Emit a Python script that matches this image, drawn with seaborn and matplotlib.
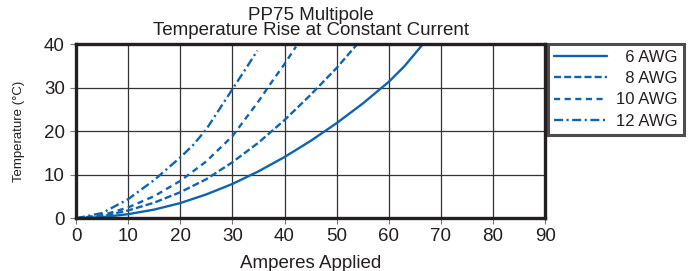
import pandas as pd
import matplotlib
matplotlib.use('Agg')
import matplotlib.pyplot as plt
import seaborn as sns

# 数据
amps_6 = [0, 5, 10, 15, 20, 25, 30, 35, 40, 45, 50, 55, 60, 63, 66.5]
temp_6 = [0, 0.25, 0.95, 2.0, 3.5, 5.5, 7.9, 10.8, 14.1, 17.8, 21.9, 26.4, 31.4, 35.0, 40]

amps_8 = [0, 5, 10, 15, 20, 25, 30, 35, 40, 45, 50, 53.9]
temp_8 = [0, 0.5, 1.8, 3.6, 6.0, 9.0, 12.9, 17.4, 22.6, 28.4, 34.6, 40]

amps_10 = [0, 5, 10, 15, 20, 25, 30, 35, 37.5, 40, 42.2]
temp_10 = [0, 0.7, 2.5, 5.1, 8.6, 13.1, 18.9, 26.9, 31.3, 35.5, 39.5]

amps_12 = [0, 5, 10, 15, 20, 22.5, 25, 27.5, 30, 32.5, 34.8]
temp_12 = [0, 1.2, 4.4, 8.8, 14, 16.9, 20.5, 25.1, 29.7, 34.3, 38.6]

labels = ['\u20076 AWG', '\u20078 AWG', '10 AWG', '12 AWG']
x_ticks = list(range(0, 100, 10))
y_ticks = list(range(0, 50, 10))

blue = '#0e64ae'
dark = '#231f20'

sns.set_style('white')
plt.rcParams['font.family'] = ['Liberation Sans', 'DejaVu Sans']

fig, ax = plt.subplots(figsize=(6.91, 2.71), dpi=100)
fig.subplots_adjust(left=0.110, right=0.789, bottom=0.1945, top=0.836)

lw = 1.7
series = [
    (amps_6, temp_6, '-'),
    (amps_8, temp_8, (0, (3.0, 1.3))),
    (amps_10, temp_10, (0, (2.6, 1.9))),
    (amps_12, temp_12, (0, (3.8, 1.5, 0.9, 1.5))),
]
for (xs, ys, ls), lab in zip(series, labels):
    df = pd.DataFrame({'amps': xs, 'temp': ys})
    sns.lineplot(data=df, x='amps', y='temp', ax=ax, color=blue, lw=lw,
                 linestyle=ls, label=lab)

ax.set_xlim(0, 90)
ax.set_ylim(0, 40)
ax.set_xticks(x_ticks)
ax.set_yticks(y_ticks)
ax.grid(True, color='#333333', lw=0.9)
ax.set_axisbelow(True)
for sp in ax.spines.values():
    sp.set_color(dark)
    sp.set_linewidth(2.4)
ax.tick_params(axis='both', which='major', labelsize=13.5, length=4, width=0.8,
               color='#777777', direction='out', pad=3, labelcolor=dark,
               bottom=True, left=True)
ax.tick_params(axis='y', pad=4)

ax.set_title('PP75 Multipole\nTemperature Rise at Constant Current',
             fontsize=13.5, linespacing=0.8, pad=7, color=dark)
ax.set_xlabel('Amperes Applied', fontsize=13.5, labelpad=7, color=dark)
ax.set_ylabel('Temperature (°C)', fontsize=9.5, color=dark,
              family=['Liberation Sans Narrow', 'Liberation Sans', 'DejaVu Sans'])
ax.yaxis.set_label_coords(-0.109, 0.5)

leg = ax.legend(loc='upper left', bbox_to_anchor=(0.793, 0.838),
                bbox_transform=fig.transFigure, fontsize=12, frameon=True,
                fancybox=False, handlelength=3.2, handletextpad=0.55,
                labelspacing=0.38, borderpad=0.35, borderaxespad=0)
leg.get_frame().set_edgecolor(dark)
leg.get_frame().set_linewidth(2.2)
for t in leg.get_texts():
    t.set_color(dark)

plt.savefig('out.png', dpi=100)
plt.close()
